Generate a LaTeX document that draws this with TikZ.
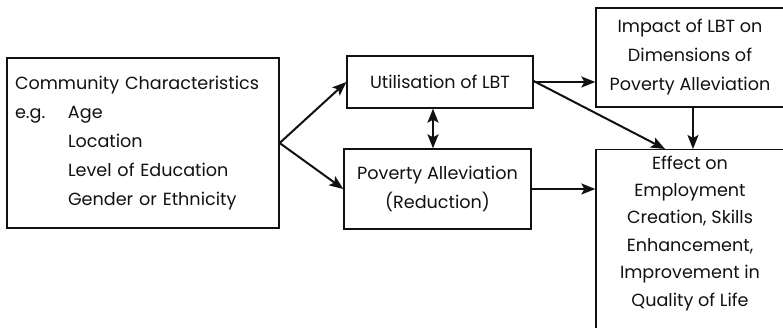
\documentclass[tikz,border=0pt]{standalone}
\usepackage{fontspec}
\setmainfont{Poppins}
\usetikzlibrary{arrows.meta,positioning,calc}
\definecolor{ink}{HTML}{111111}
\tikzset{
  box/.style={draw=ink,line width=1.3pt,inner sep=6pt,align=center,font=\fontsize{17.6}{29}\selectfont,text=ink},
  ar/.style={-{Stealth[length=14pt,width=11pt,inset=3pt]},draw=ink,line width=2pt},
  dar/.style={{Stealth[length=14pt,width=11pt,inset=3pt]}-{Stealth[length=14pt,width=11pt,inset=3pt]},draw=ink,line width=2pt},
}
\begin{document}
\begin{tikzpicture}[x=1pt,y=-1pt]
  \useasboundingbox (0,0) rectangle (783,327);
  % ── the boxes ──
  \node[box,minimum width=272,minimum height=170,text width=256,align=left,inner sep=8pt] (comm) at (143,143)
    {Community Characteristics\\\makebox[53pt][l]{e.g.}Age\\\hspace*{53pt}Location\\\hspace*{53pt}Level of Education\\\hspace*{53pt}Gender or Ethnicity};
  \node[box,minimum width=186,minimum height=52] (util) at (440,82) {Utilisation of LBT};
  \node[box,minimum width=187,minimum height=80] (pov) at (437.5,189) {Poverty Alleviation\\(Reduction)};
  \node[box,minimum width=188,minimum height=99] (impact) at (690,57.5) {Impact of LBT on\\Dimensions of\\Poverty Alleviation};
  \node[box,minimum width=188,anchor=north,font=\fontsize{17.6}{27.4}\selectfont] (effect) at (690,149)
    {Effect on\\Employment\\Creation, Skills\\Enhancement,\\Improvement in\\Quality of Life\\[30pt]\mbox{}};

  % ── the connectors ──
  \draw[ar] (comm.east) -- (util.west);
  \draw[ar] (comm.east) -- (pov.west);
  \draw[dar] ([xshift=-7]util.south) -- ([xshift=-7]util.south |- pov.north);
  \draw[ar] (util.east) -- (util.east -| impact.west);
  \draw[ar] ([yshift=1]util.east) -- ([xshift=-25]effect.north);
  \draw[ar] ([xshift=3]impact.south) -- ([xshift=3]effect.north);
  \draw[ar] (pov.east) -- (pov.east -| effect.west);
\end{tikzpicture}
\end{document}
